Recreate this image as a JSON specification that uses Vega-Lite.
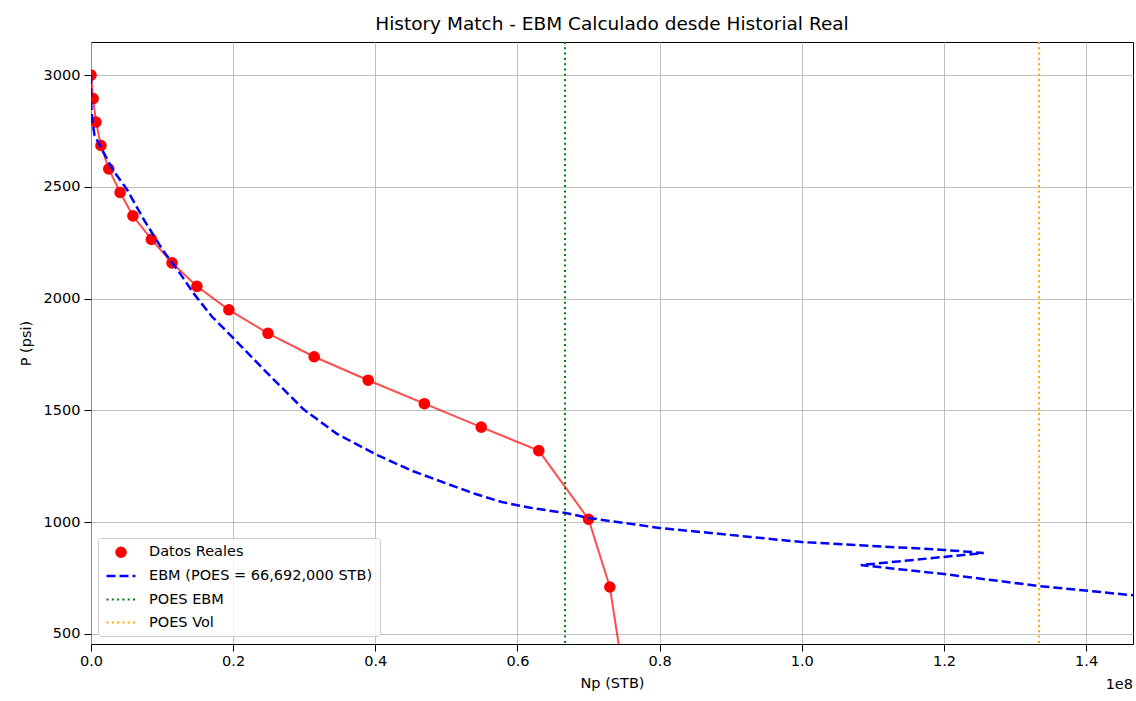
{
  "$schema": "https://vega.github.io/schema/vega-lite/v6.json",
  "width": 1042,
  "height": 602,
  "autosize": {"type": "none"},
  "padding": {"left": 91, "top": 42, "right": 3, "bottom": 57},
  "background": "white",
  "title": {"text": "History Match - EBM Calculado desde Historial Real", "fontSize": 18.5, "font": "DejaVu Sans", "fontWeight": "normal", "color": "#000000", "anchor": "middle", "offset": 8},
  "datasets": {
    "real": [
      {"np": 0, "p": 3000, "i": 0, "serie": "Datos Reales"},
      {"np": 300000, "p": 2895, "i": 1, "serie": "Datos Reales"},
      {"np": 700000, "p": 2790, "i": 2, "serie": "Datos Reales"},
      {"np": 1400000, "p": 2685, "i": 3, "serie": "Datos Reales"},
      {"np": 2500000, "p": 2580, "i": 4, "serie": "Datos Reales"},
      {"np": 4100000, "p": 2475, "i": 5, "serie": "Datos Reales"},
      {"np": 5900000, "p": 2370, "i": 6, "serie": "Datos Reales"},
      {"np": 8500000, "p": 2265, "i": 7, "serie": "Datos Reales"},
      {"np": 11400000, "p": 2160, "i": 8, "serie": "Datos Reales"},
      {"np": 14900000, "p": 2055, "i": 9, "serie": "Datos Reales"},
      {"np": 19400000, "p": 1950, "i": 10, "serie": "Datos Reales"},
      {"np": 24900000, "p": 1845, "i": 11, "serie": "Datos Reales"},
      {"np": 31400000, "p": 1740, "i": 12, "serie": "Datos Reales"},
      {"np": 39000000, "p": 1635, "i": 13, "serie": "Datos Reales"},
      {"np": 46900000, "p": 1530, "i": 14, "serie": "Datos Reales"},
      {"np": 54900000, "p": 1425, "i": 15, "serie": "Datos Reales"},
      {"np": 63000000, "p": 1320, "i": 16, "serie": "Datos Reales"},
      {"np": 70000000, "p": 1013, "i": 17, "serie": "Datos Reales"},
      {"np": 73000000, "p": 710, "i": 18, "serie": "Datos Reales"},
      {"np": 74500000, "p": 400, "i": 19, "serie": "Datos Reales"}
    ],
    "ebm": [
      {"np": 0, "p": 3000, "i": 0, "serie": "EBM (POES = 66,692,000 STB)"},
      {"np": 0, "p": 2880, "i": 1, "serie": "EBM (POES = 66,692,000 STB)"},
      {"np": 200000, "p": 2790, "i": 2, "serie": "EBM (POES = 66,692,000 STB)"},
      {"np": 500000, "p": 2730, "i": 3, "serie": "EBM (POES = 66,692,000 STB)"},
      {"np": 3100000, "p": 2575, "i": 4, "serie": "EBM (POES = 66,692,000 STB)"},
      {"np": 5100000, "p": 2486, "i": 5, "serie": "EBM (POES = 66,692,000 STB)"},
      {"np": 7500000, "p": 2350, "i": 6, "serie": "EBM (POES = 66,692,000 STB)"},
      {"np": 10100000, "p": 2217, "i": 7, "serie": "EBM (POES = 66,692,000 STB)"},
      {"np": 12500000, "p": 2114, "i": 8, "serie": "EBM (POES = 66,692,000 STB)"},
      {"np": 14400000, "p": 2025, "i": 9, "serie": "EBM (POES = 66,692,000 STB)"},
      {"np": 17000000, "p": 1920, "i": 10, "serie": "EBM (POES = 66,692,000 STB)"},
      {"np": 20000000, "p": 1824, "i": 11, "serie": "EBM (POES = 66,692,000 STB)"},
      {"np": 24800000, "p": 1667, "i": 12, "serie": "EBM (POES = 66,692,000 STB)"},
      {"np": 29900000, "p": 1505, "i": 13, "serie": "EBM (POES = 66,692,000 STB)"},
      {"np": 34600000, "p": 1395, "i": 14, "serie": "EBM (POES = 66,692,000 STB)"},
      {"np": 40300000, "p": 1300, "i": 15, "serie": "EBM (POES = 66,692,000 STB)"},
      {"np": 45000000, "p": 1232, "i": 16, "serie": "EBM (POES = 66,692,000 STB)"},
      {"np": 50100000, "p": 1172, "i": 17, "serie": "EBM (POES = 66,692,000 STB)"},
      {"np": 54000000, "p": 1127, "i": 18, "serie": "EBM (POES = 66,692,000 STB)"},
      {"np": 57800000, "p": 1090, "i": 19, "serie": "EBM (POES = 66,692,000 STB)"},
      {"np": 62000000, "p": 1063, "i": 20, "serie": "EBM (POES = 66,692,000 STB)"},
      {"np": 66800000, "p": 1041, "i": 21, "serie": "EBM (POES = 66,692,000 STB)"},
      {"np": 70000000, "p": 1019, "i": 22, "serie": "EBM (POES = 66,692,000 STB)"},
      {"np": 80000000, "p": 974, "i": 23, "serie": "EBM (POES = 66,692,000 STB)"},
      {"np": 92800000, "p": 934, "i": 24, "serie": "EBM (POES = 66,692,000 STB)"},
      {"np": 100000000, "p": 911, "i": 25, "serie": "EBM (POES = 66,692,000 STB)"},
      {"np": 120000000, "p": 876, "i": 26, "serie": "EBM (POES = 66,692,000 STB)"},
      {"np": 125600000, "p": 862, "i": 27, "serie": "EBM (POES = 66,692,000 STB)"},
      {"np": 108300000, "p": 808, "i": 28, "serie": "EBM (POES = 66,692,000 STB)"},
      {"np": 120000000, "p": 768, "i": 29, "serie": "EBM (POES = 66,692,000 STB)"},
      {"np": 133200000, "p": 715, "i": 30, "serie": "EBM (POES = 66,692,000 STB)"},
      {"np": 146300000, "p": 674, "i": 31, "serie": "EBM (POES = 66,692,000 STB)"},
      {"np": 150000000, "p": 662, "i": 32, "serie": "EBM (POES = 66,692,000 STB)"}
    ],
    "poes": [
      {"np": 66692000, "serie": "POES EBM"},
      {"np": 133384000, "serie": "POES Vol"}
    ],
    "offset": [
      {"np": 146600000, "p": 455, "txt": "1e8"}
    ]
  },
  "encoding": {
    "x": {
      "field": "np", "type": "quantitative",
      "scale": {"domain": [0, 146600000], "nice": false, "zero": false},
      "axis": {
        "title": "Np (STB)",
        "values": [0, 20000000, 40000000, 60000000, 80000000, 100000000, 120000000, 140000000],
        "labelExpr": "format(datum.value / 1e8, '.1f')"
      }
    },
    "y": {
      "field": "p", "type": "quantitative",
      "scale": {"domain": [455, 3148], "nice": false, "zero": false},
      "axis": {"title": "P (psi)", "values": [500, 1000, 1500, 2000, 2500, 3000], "format": "d"}
    }
  },
  "layer": [
    {
      "data": {"name": "real"},
      "mark": {"type": "line", "color": "#ff0000", "opacity": 0.7, "strokeWidth": 2, "clip": true},
      "encoding": {"order": {"field": "i", "type": "quantitative"}}
    },
    {
      "data": {"name": "real"},
      "mark": {"type": "point", "filled": true, "opacity": 1, "clip": true},
      "encoding": {
        "color": {
          "field": "serie", "type": "nominal", "title": null,
          "scale": {
            "domain": ["Datos Reales", "EBM (POES = 66,692,000 STB)", "POES EBM", "POES Vol"],
            "range": ["#ff0000", "#0000ff", "#008000", "#ffa500"]
          },
          "legend": {
            "title": null,
            "orient": "none",
            "legendX": 7,
            "legendY": 496,
            "fillColor": "rgba(255,255,255,0.8)",
            "strokeColor": "#cccccc",
            "cornerRadius": 3,
            "padding": 7,
            "labelFont": "DejaVu Sans",
            "labelFontSize": 14.5,
            "labelColor": "#000000",
            "labelLimit": 400,
            "labelOffset": 15,
            "rowPadding": 4,
            "symbolOffset": 3
          }
        },
        "stroke": {
          "field": "serie", "type": "nominal", "title": null,
          "scale": {
            "domain": ["Datos Reales", "EBM (POES = 66,692,000 STB)", "POES EBM", "POES Vol"],
            "range": ["#ff0000", "#0000ff", "#008000", "#ffa500"]
          }
        },
        "shape": {
          "field": "serie", "type": "nominal", "title": null,
          "scale": {
            "domain": ["Datos Reales", "EBM (POES = 66,692,000 STB)", "POES EBM", "POES Vol"],
            "range": ["circle", "M-1.26,0H1.26", "M-1.26,0H1.26", "M-1.26,0H1.26"]
          }
        },
        "size": {
          "field": "serie", "type": "nominal", "title": null,
          "scale": {
            "type": "ordinal",
            "domain": ["Datos Reales", "EBM (POES = 66,692,000 STB)", "POES EBM", "POES Vol"],
            "range": [135, 529, 529, 529]
          }
        },
        "strokeWidth": {
          "field": "serie", "type": "nominal", "title": null,
          "scale": {
            "type": "ordinal",
            "domain": ["Datos Reales", "EBM (POES = 66,692,000 STB)", "POES EBM", "POES Vol"],
            "range": [0, 2.5, 2, 2]
          }
        },
        "strokeDash": {
          "field": "serie", "type": "nominal", "title": null,
          "scale": {
            "domain": ["Datos Reales", "EBM (POES = 66,692,000 STB)", "POES EBM", "POES Vol"],
            "range": [[1, 0], [9, 4], [2, 3.3], [2, 3.3]]
          }
        }
      }
    },
    {
      "data": {"name": "ebm"},
      "mark": {"type": "line", "strokeWidth": 2.5, "strokeDash": [9, 4], "clip": true},
      "encoding": {
        "order": {"field": "i", "type": "quantitative"},
        "color": {"field": "serie", "type": "nominal", "title": null, "legend": null}
      }
    },
    {
      "data": {"name": "poes"},
      "mark": {"type": "rule", "strokeWidth": 2, "strokeDash": [2, 3.3]},
      "encoding": {
        "y": null,
        "color": {"field": "serie", "type": "nominal", "title": null, "legend": null}
      }
    },
    {
      "data": {"name": "offset"},
      "mark": {"type": "text", "align": "right", "baseline": "middle", "dy": 41, "font": "DejaVu Sans", "fontSize": 14.5, "color": "#000000", "clip": false},
      "encoding": {"text": {"field": "txt"}}
    }
  ],
  "resolve": {"scale": {"color": "shared"}},
  "config": {
    "font": "DejaVu Sans",
    "view": {"stroke": "#000000", "strokeWidth": 1},
    "axis": {
      "grid": true,
      "gridColor": "#b0b0b0",
      "gridWidth": 0.8,
      "gridOpacity": 1,
      "domain": false,
      "tickColor": "#000000",
      "tickSize": 7,
      "labelFont": "DejaVu Sans",
      "labelFontSize": 14.5,
      "labelColor": "#000000",
      "titleFont": "DejaVu Sans",
      "titleFontSize": 14.5,
      "titleFontWeight": "normal",
      "titleColor": "#000000"
    },
    "axisX": {"labelPadding": 3, "titlePadding": 9, "labelFlush": false},
    "axisY": {"labelPadding": 4, "titlePadding": 10}
  }
}
